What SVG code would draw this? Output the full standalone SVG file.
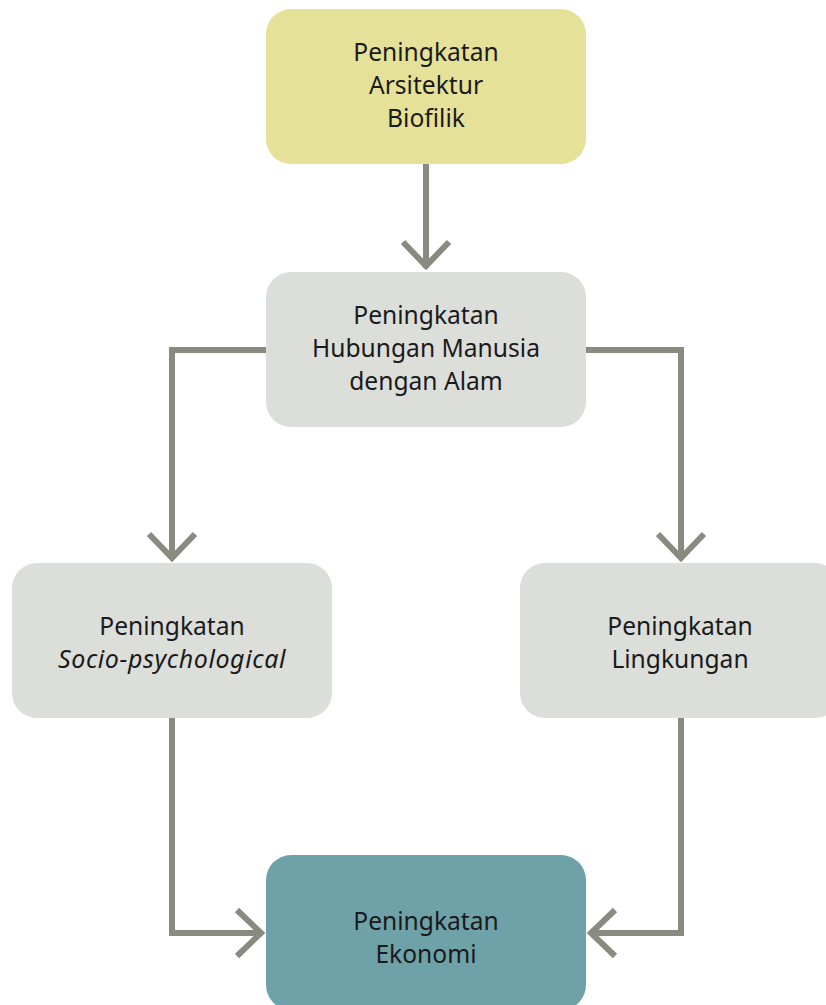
<svg xmlns="http://www.w3.org/2000/svg" width="826" height="1005" viewBox="0 0 826 1005">
  <style>
    .lbl { font-family: "Noto Sans", "DejaVu Sans", sans-serif; font-size: 24.6px; fill: #1a1a1a; text-anchor: middle; }
    .it { font-style: italic; font-size: 25px; letter-spacing: 0.6px; }
    .wire { fill: none; stroke: #8a8b80; stroke-width: 6; }
    .head { fill: none; stroke: #8a8b80; stroke-width: 6; }
    .yellow { fill: #e6e198; }
    .grey { fill: #dcdeda; }
    .teal { fill: #6fa1a8; }
  </style>
  <rect width="826" height="1005" fill="#ffffff"/>

  <g id="connectors">
    <!-- top -> middle -->
    <path class="wire" d="M426 164 V268"/>
    <path class="head" d="M403 242 L426 266 L449 242"/>
    <!-- middle -> left -->
    <path class="wire" d="M266 350 H172 V559"/>
    <path class="head" d="M149 534 L172 558 L195 534"/>
    <!-- middle -> right -->
    <path class="wire" d="M586 350 H681 V559"/>
    <path class="head" d="M658 534 L681 558 L704 534"/>
    <!-- left -> bottom -->
    <path class="wire" d="M172 718 V933 H262"/>
    <path class="head" d="M237 910 L261 933 L237 956"/>
    <!-- right -> bottom -->
    <path class="wire" d="M681 718 V933 H590"/>
    <path class="head" d="M615 910 L591 933 L615 956"/>
  </g>

  <g id="node-biofilik">
    <rect class="yellow" x="266" y="9" width="320" height="155" rx="25"/>
    <text class="lbl" x="426" y="61">Peningkatan</text>
    <text class="lbl" x="426" y="94">Arsitektur</text>
    <text class="lbl" x="426" y="127">Biofilik</text>
  </g>

  <g id="node-hubungan">
    <rect class="grey" x="266" y="272" width="320" height="155" rx="25"/>
    <text class="lbl" x="426" y="324">Peningkatan</text>
    <text class="lbl" x="426" y="357">Hubungan Manusia</text>
    <text class="lbl" x="426" y="390">dengan Alam</text>
  </g>

  <g id="node-socio">
    <rect class="grey" x="12" y="563" width="320" height="155" rx="25"/>
    <text class="lbl" x="172" y="635">Peningkatan</text>
    <text class="lbl it" x="172" y="668">Socio-psychological</text>
  </g>

  <g id="node-lingkungan">
    <rect class="grey" x="520" y="563" width="320" height="155" rx="25"/>
    <text class="lbl" x="680" y="635">Peningkatan</text>
    <text class="lbl" x="680" y="668">Lingkungan</text>
  </g>

  <g id="node-ekonomi">
    <rect class="teal" x="266" y="855" width="320" height="155" rx="25"/>
    <text class="lbl" x="426" y="930">Peningkatan</text>
    <text class="lbl" x="426" y="963">Ekonomi</text>
  </g>
</svg>
